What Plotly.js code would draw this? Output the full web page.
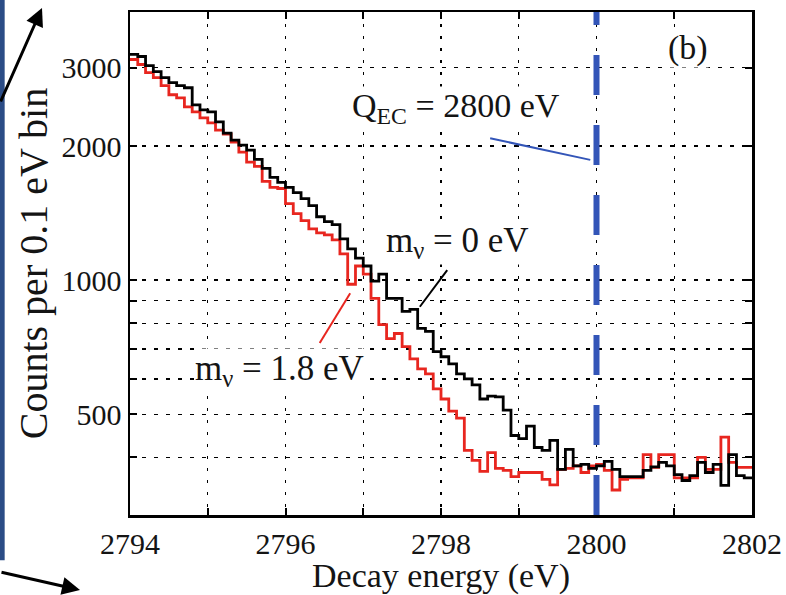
<!DOCTYPE html>
<html>
<head>
<meta charset="utf-8">
<script src="https://cdn.plot.ly/plotly-3.0.1.min.js"></script>
<style>html,body{margin:0;padding:0;background:#fff;}#chart{width:786px;height:595px;}</style>
</head>
<body>
<div id="chart"></div>
<script>
// Histogram bins: 0.1 eV wide, from 2794 to 2802 eV
const binStart = 2794;
const binWidth = 0.1;
const binEnd = 2802;

// Counts per bin, m_nu = 0 eV (black)
const countsMnu0 = [
  3212, 3178, 3033, 2940, 2849, 2776, 2733, 2704, 2475, 2412,
  2387, 2266, 2139, 2063, 2010, 1958, 1868, 1783, 1701, 1657,
  1615, 1573, 1525, 1470, 1388, 1353, 1332, 1238, 1175, 1121,
  1076, 995, 1032, 910, 910, 851, 860, 779, 767, 691,
  673, 649, 616, 600, 582, 541, 549, 547, 511, 448,
  441, 470, 421, 415, 437, 376, 417, 383, 386, 378,
  383, 392, 376, 362, 362, 362, 374, 381, 390, 383,
  366, 355, 364, 390, 370, 386, 346, 406, 364, 360
];

// Counts per bin, m_nu = 1.8 eV (red)
const countsMnu18 = [
  3129, 3049, 2924, 2849, 2733, 2608, 2567, 2450, 2387, 2313,
  2254, 2173, 2128, 2041, 1938, 1840, 1801, 1666, 1615, 1606,
  1486, 1410, 1360, 1304, 1277, 1264, 1232, 1145, 979, 1076,
  1032, 910, 795, 739, 759, 709, 666, 632, 616, 570,
  541, 508, 490, 415, 394, 372, 410, 378, 374, 362,
  370, 370, 370, 357, 347, 376, 378, 383, 370, 383,
  386, 374, 338, 357, 360, 360, 406, 380, 406, 406,
  360, 360, 360, 400, 376, 376, 444, 390, 380, 380
];

const qEC = 2800;

const xTickVals = [2794, 2795, 2796, 2797, 2798, 2799, 2800, 2801, 2802];
const xTickText = ['2794', '', '2796', '', '2798', '', '2800', '', '2802'];
const yTickVals = [400, 500, 600, 700, 800, 900, 1000, 2000, 3000];
const yTickText = ['', '500', '', '', '', '', '1000', '2000', '3000'];

function edges(vals) {
  const xs = vals.map((_, i) => +(binStart + i * binWidth).toFixed(2));
  xs.push(binEnd);
  return xs;
}
function stepY(vals) {
  const ys = vals.slice();
  ys.push(vals[vals.length - 1]);
  return ys;
}

const FONT = 'Liberation Serif, Times New Roman, serif';
const TXT = '#141414';

const traces = [
  {
    x: edges(countsMnu18), y: stepY(countsMnu18), type: 'scatter', mode: 'lines',
    line: {shape: 'hv', color: '#e8261f', width: 2.8}, hoverinfo: 'skip'
  },
  {
    x: edges(countsMnu0), y: stepY(countsMnu0), type: 'scatter', mode: 'lines',
    line: {shape: 'hv', color: '#000000', width: 2.8}, hoverinfo: 'skip'
  }
];

function label(x, y, text, size) {
  return {xref: 'paper', yref: 'paper', x: x, y: y, xanchor: 'center', yanchor: 'middle',
          text: text, showarrow: false, bgcolor: '#ffffff', borderpad: 0,
          font: {family: FONT, size: size, color: TXT}};
}

const layout = {
  width: 786, height: 595,
  margin: {l: 130, r: 34, t: 12, b: 80},
  paper_bgcolor: '#fff', plot_bgcolor: '#fff',
  showlegend: false,
  font: {family: FONT, size: 30, color: TXT},
  xaxis: {
    range: [2794, 2802], tickvals: xTickVals, ticktext: xTickText,
    ticks: 'inside', ticklen: 7, tickwidth: 2, tickcolor: '#000',
    showline: true, linecolor: '#000', linewidth: 2.5, mirror: 'ticks',
    showgrid: true, gridcolor: '#000', gridwidth: 1.4, griddash: '3px,9px',
    zeroline: false, tickfont: {family: FONT, size: 30, color: TXT},
    title: {text: 'Decay energy (eV)', font: {family: FONT, size: 34, color: TXT}, standoff: 2}
  },
  yaxis: {
    type: 'log', range: [Math.log10(297), Math.log10(4000)],
    tickvals: yTickVals, ticktext: yTickText,
    ticks: 'inside', ticklen: 7, tickwidth: 2, tickcolor: '#000',
    showline: true, linecolor: '#000', linewidth: 2.5, mirror: 'ticks',
    showgrid: true, gridcolor: '#000', gridwidth: 1.4, griddash: '4px,8px',
    zeroline: false, tickfont: {family: FONT, size: 30, color: TXT},
    title: {text: 'Counts per 0.1 eV bin', font: {family: FONT, size: 40, color: TXT}, standoff: 2}
  },
  shapes: [
    {type: 'line', xref: 'x', yref: 'paper', x0: qEC, x1: qEC, y0: 0, y1: 1,
     line: {color: '#3355b8', width: 6, dash: '40px,30px'}},
    {type: 'line', xref: 'paper', yref: 'paper', x0: 0.579, y0: 0.749, x1: 0.740, y1: 0.706,
     line: {color: '#3355b8', width: 2}},
    {type: 'line', xref: 'paper', yref: 'paper', x0: 0.510, y0: 0.487, x1: 0.466, y1: 0.414,
     line: {color: '#000', width: 2}},
    {type: 'line', xref: 'paper', yref: 'paper', x0: 0.354, y0: 0.441, x1: 0.305, y1: 0.342,
     line: {color: '#e8261f', width: 2}},
    {type: 'rect', xref: 'paper', yref: 'paper', x0: -0.209, x1: -0.2015, y0: -0.09, y1: 1.03,
     line: {width: 0}, fillcolor: '#2b4c86', layer: 'below'}
  ],
  annotations: [
    label(0.897, 0.928, '(b)', 34),
    label(0.524, 0.809, 'Q<sub>EC</sub> = 2800 eV', 34),
    label(0.526, 0.541, 'm<sub>ν</sub> = 0 eV', 35),
    label(0.240, 0.288, 'm<sub>ν</sub> = 1.8 eV', 35),
    {xref: 'paper', yref: 'paper', x: -0.1415, y: 1.008, text: '', showarrow: true,
     arrowhead: 2, arrowsize: 1.2, arrowwidth: 3, arrowcolor: '#000', ax: -44, ay: 95},
    {xref: 'paper', yref: 'paper', x: -0.0804, y: -0.149, text: '', showarrow: true,
     arrowhead: 2, arrowsize: 1.2, arrowwidth: 3, arrowcolor: '#000', ax: -82, ay: -18}
  ]
};

Plotly.newPlot('chart', traces, layout, {staticPlot: true, displayModeBar: false});
</script>
</body>
</html>
